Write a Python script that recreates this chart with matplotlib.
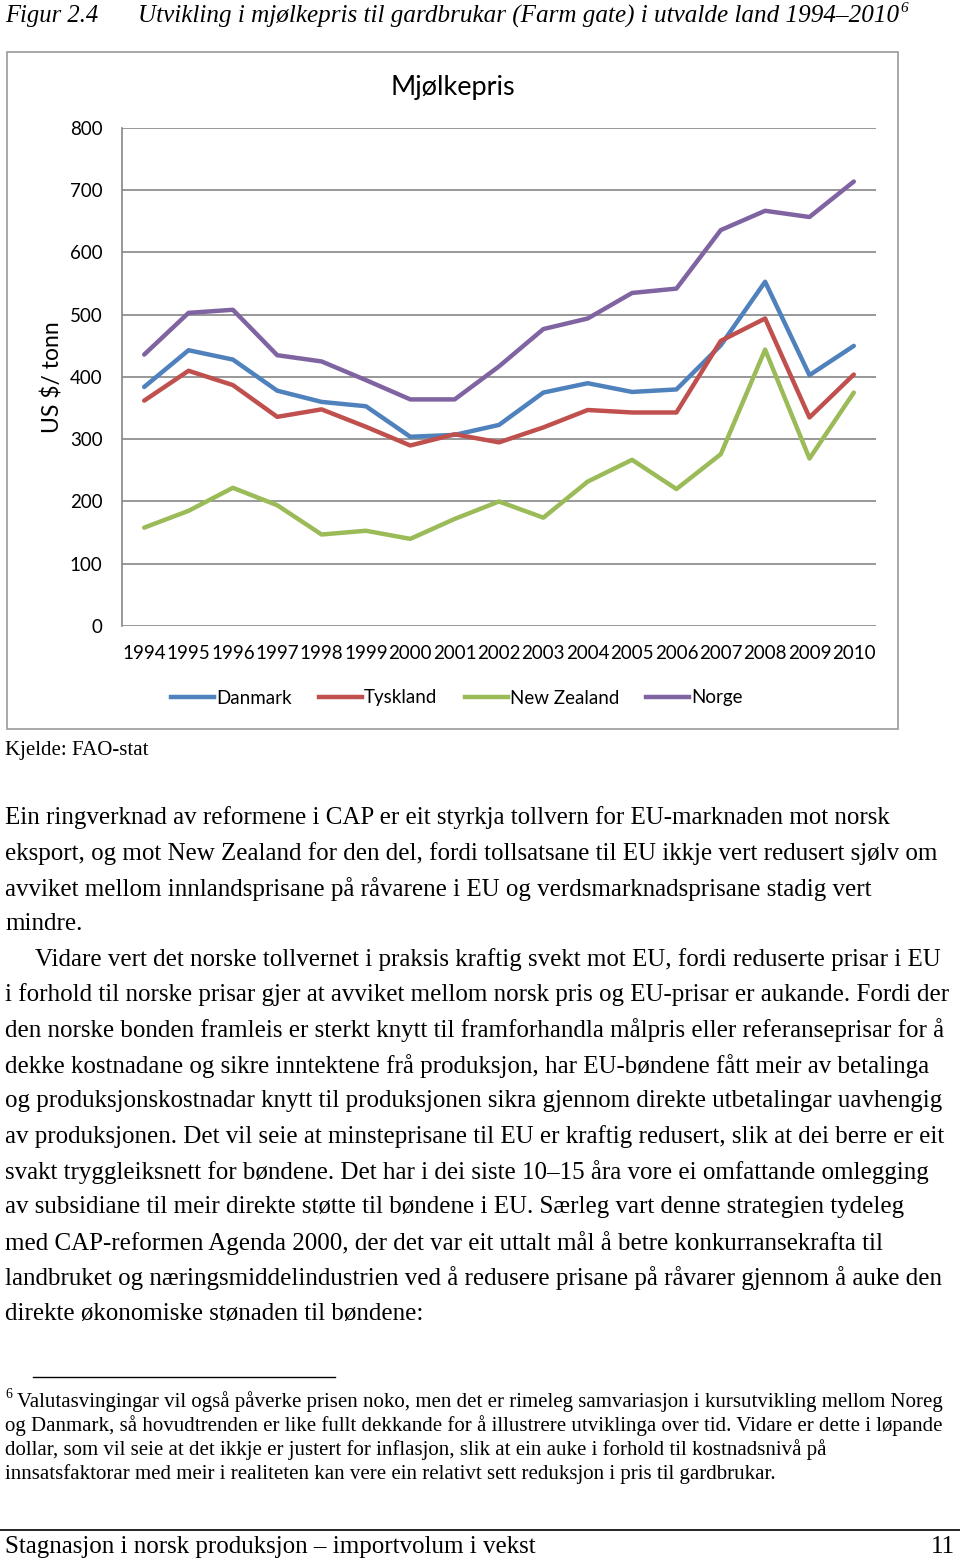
import matplotlib.pyplot as plt
import matplotlib.patches as patches
from matplotlib.lines import Line2D

W, H = 960, 1561

years = [str(y) for y in range(1994, 2011)]
danmark = [384, 443, 428, 378, 360, 353, 304, 307, 323, 375, 390, 376, 380, 451, 553, 403, 450]
tyskland = [362, 410, 387, 336, 348, 320, 290, 308, 295, 319, 347, 343, 343, 458, 494, 335, 404]
new_zealand = [158, 185, 222, 194, 147, 153, 140, 172, 200, 174, 232, 267, 220, 276, 444, 269, 375]
norge = [436, 503, 508, 435, 425, 395, 364, 364, 417, 477, 494, 535, 542, 636, 667, 657, 714]

series_names = ['Danmark', 'Tyskland', 'New Zealand', 'Norge']
series_colors = ['#4F81BD', '#C0504D', '#9BBB59', '#8064A2']

body_lines = [
    "Ein ringverknad av reformene i CAP er eit styrkja tollvern for EU-marknaden mot norsk",
    "eksport, og mot New Zealand for den del, fordi tollsatsane til EU ikkje vert redusert sjølv om",
    "avviket mellom innlandsprisane på råvarene i EU og verdsmarknadsprisane stadig vert",
    "mindre.",
    "Vidare vert det norske tollvernet i praksis kraftig svekt mot EU, fordi reduserte prisar i EU",
    "i forhold til norske prisar gjer at avviket mellom norsk pris og EU-prisar er aukande. Fordi der",
    "den norske bonden framleis er sterkt knytt til framforhandla målpris eller referanseprisar for å",
    "dekke kostnadane og sikre inntektene frå produksjon, har EU-bøndene fått meir av betalinga",
    "og produksjonskostnadar knytt til produksjonen sikra gjennom direkte utbetalingar uavhengig",
    "av produksjonen. Det vil seie at minsteprisane til EU er kraftig redusert, slik at dei berre er eit",
    "svakt tryggleiksnett for bøndene. Det har i dei siste 10–15 åra vore ei omfattande omlegging",
    "av subsidiane til meir direkte støtte til bøndene i EU. Særleg vart denne strategien tydeleg",
    "med CAP-reformen Agenda 2000, der det var eit uttalt mål å betre konkurransekrafta til",
    "landbruket og næringsmiddelindustrien ved å redusere prisane på råvarer gjennom å auke den",
    "direkte økonomiske stønaden til bøndene:",
]

foot_lines = [
    "Valutasvingingar vil også påverke prisen noko, men det er rimeleg samvariasjon i kursutvikling mellom Noreg",
    "og Danmark, så hovudtrenden er like fullt dekkande for å illustrere utviklinga over tid. Vidare er dette i løpande",
    "dollar, som vil seie at det ikkje er justert for inflasjon, slik at ein auke i forhold til kostnadsnivå på",
    "innsatsfaktorar med meir i realiteten kan vere ein relativt sett reduksjon i pris til gardbrukar.",
]


def px(x, y):
    return x / W, 1 - y / H


serif = 'Liberation Serif'
sans = 'Lato'

fig = plt.figure(figsize=(W / 100, H / 100), dpi=100)

# chart frame
x0, y0 = px(7, 729)
fig.patches.append(patches.Rectangle((x0, y0), 891 / W, 677 / H, transform=fig.transFigure,
                                     fill=False, edgecolor='#9a9a9a', linewidth=1.2))

ax = fig.add_axes([122 / W, 1 - 626 / H, 754 / W, 498 / H])
for i in range(4):
    vals = [danmark, tyskland, new_zealand, norge][i]
    ax.plot(years, vals, color=series_colors[i], linewidth=3.2, label=series_names[i],
            solid_capstyle='round', solid_joinstyle='round')

ax.set_xlim(-0.5, 16.5)
ax.set_ylim(0, 800)
ax.set_yticks(range(0, 801, 100))
ax.grid(axis='y', color='#868686', linewidth=1.2)
ax.set_axisbelow(True)
for s in ['top', 'right', 'bottom']:
    ax.spines[s].set_visible(False)
ax.spines['left'].set_color('#868686')
ax.spines['left'].set_linewidth(1.2)
ax.tick_params(length=0, labelsize=13.5)
ax.tick_params(axis='y', pad=14)
ax.tick_params(axis='x', pad=14)
for lab in ax.get_xticklabels() + ax.get_yticklabels():
    lab.set_family(sans)
ax.set_ylabel('US $/ tonn', fontsize=16.5, family=sans)
ax.yaxis.set_label_coords(-0.078, 0.5)

fig.text(*px(453, 87), 'Mjølkepris', fontsize=19.5, family=sans, ha='center', va='center')

handles = [Line2D([], [], color=c, linewidth=3.2) for c in series_colors]
fig.legend(handles, series_names, loc='center', bbox_to_anchor=px(457, 698), ncol=4,
           frameon=False, prop={'family': sans, 'size': 13.5}, handlelength=2.3,
           handletextpad=0.1, columnspacing=1.45)

# caption
fig.text(*px(5, 16), 'Figur 2.4', fontsize=17.7, family=serif, style='italic', va='center')
fig.text(*px(138, 16), 'Utvikling i mjølkepris til gardbrukar (Farm gate) i utvalde land 1994–2010',
         fontsize=18.1, family=serif, style='italic', va='center')
fig.text(*px(900, 8), '6', fontsize=11, family=serif, style='italic', va='center')

fig.text(*px(5, 750), 'Kjelde: FAO-stat', fontsize=15, family=serif, va='center')

# body text
for i, line in enumerate(body_lines):
    x = 35 if i == 4 else 5
    fig.text(*px(x, 818 + i * 35.4), line, fontsize=18, family=serif, va='center')

# footnote
fig.add_artist(Line2D([33 / W, 335 / W], [1 - 1377 / H] * 2, color='black', linewidth=1,
                      transform=fig.transFigure))
fig.text(*px(5, 1394), '6', fontsize=10, family=serif, va='center')
for i, line in enumerate(foot_lines):
    x = 17 if i == 0 else 5
    fig.text(*px(x, 1402 + i * 24), line, fontsize=15, family=serif, va='center')

# footer
fig.add_artist(Line2D([0, 1], [1 - 1530 / H] * 2, color='black', linewidth=1.2,
                      transform=fig.transFigure))
fig.text(*px(5, 1547), 'Stagnasjon i norsk produksjon – importvolum i vekst', fontsize=18,
         family=serif, va='center')
fig.text(*px(955, 1547), '11', fontsize=18, family=serif, va='center', ha='right')

fig.savefig('out.png', dpi=100)
